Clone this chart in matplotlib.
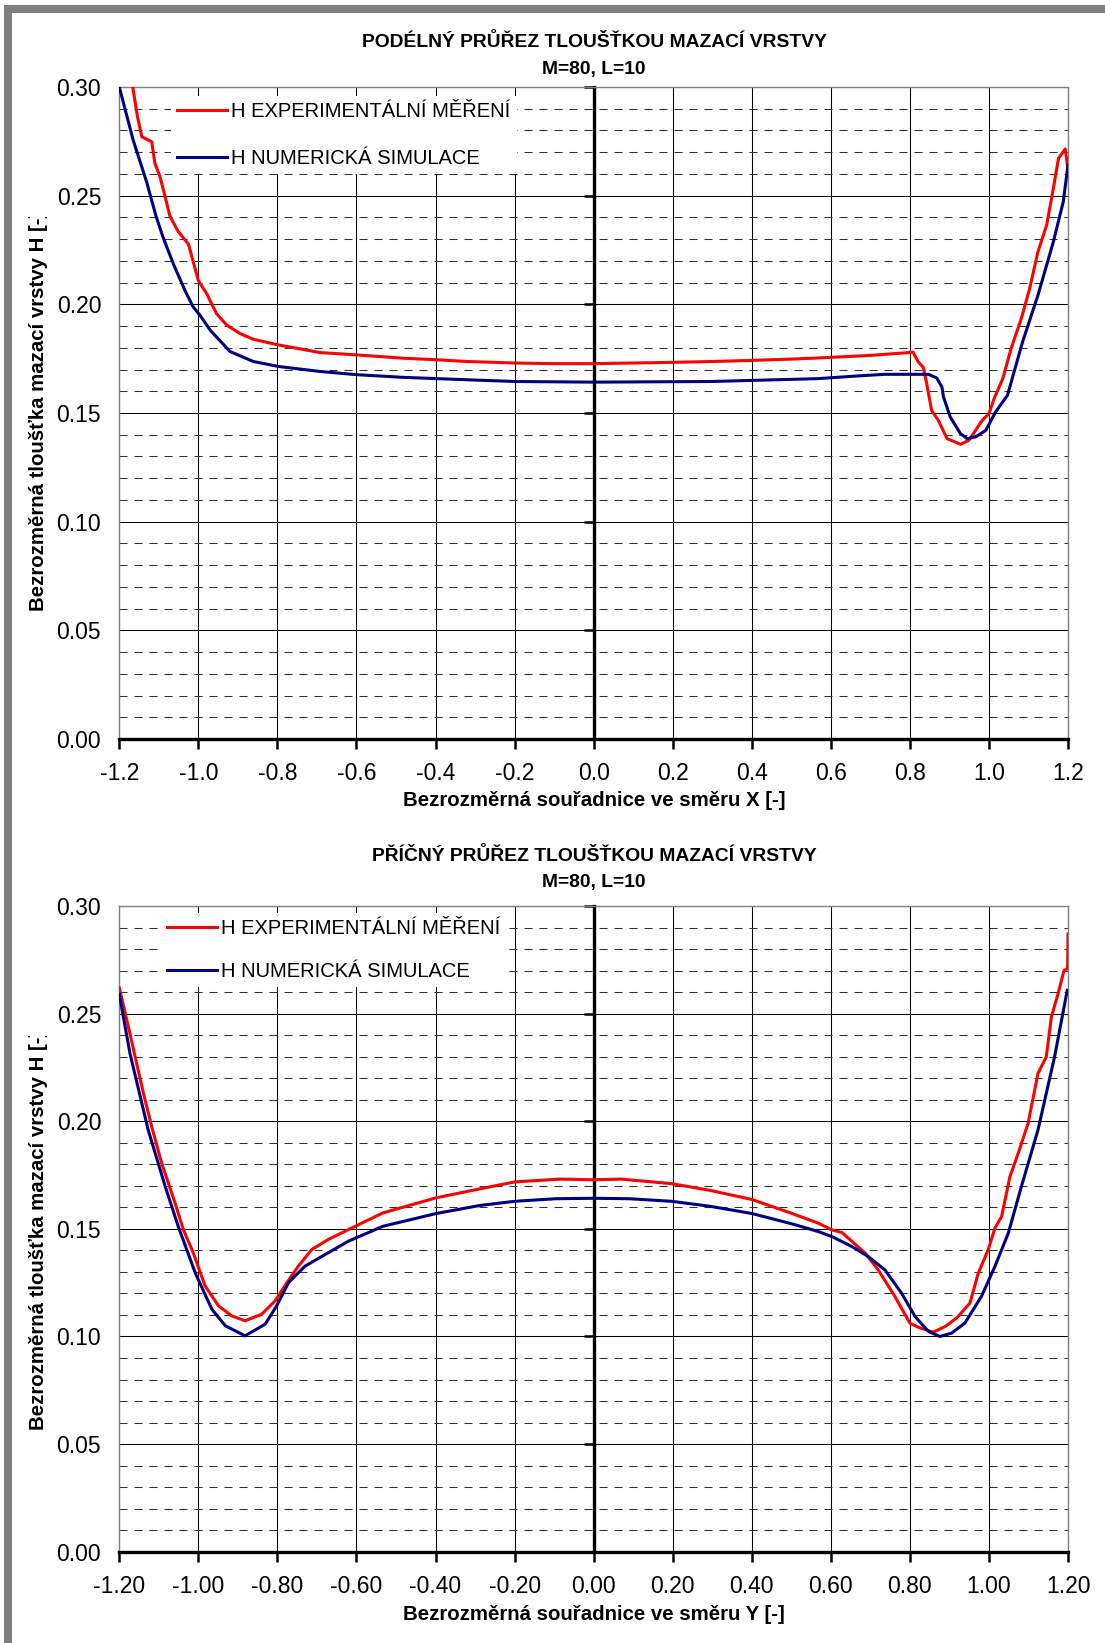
import matplotlib
matplotlib.use('Agg')
import matplotlib.pyplot as plt
from matplotlib.patches import Rectangle
from matplotlib.ticker import MultipleLocator, FormatStrFormatter, NullLocator
from matplotlib.transforms import Bbox
import numpy as np

plt.rcParams['font.family'] = ['Liberation Sans', 'DejaVu Sans']
plt.rcParams['lines.scale_dashes'] = False

# ------ DATA ------

# podelny prurez (smer X)
x_exp_top = [-1.166, -1.154, -1.143, -1.118, -1.110, -1.097, -1.084, -1.072, -1.051, -1.025,
             -1.017, -1.000, -0.979, -0.954, -0.928, -0.895, -0.861, -0.797, -0.692, -0.597,
             -0.481, -0.397, -0.321, -0.200, -0.100, 0.000, 0.100, 0.200, 0.300, 0.400,
             0.500, 0.566, 0.700, 0.797, 0.808, 0.821, 0.834, 0.842, 0.855, 0.872,
             0.894, 0.928, 0.949, 0.983, 1.000, 1.013, 1.035, 1.056, 1.082, 1.103,
             1.124, 1.146, 1.163, 1.176, 1.193, 1.200]
h_exp_top = [0.3000, 0.2863, 0.2771, 0.2748, 0.2649, 0.2587, 0.2495, 0.2406, 0.2335, 0.2277,
             0.2223, 0.2109, 0.2049, 0.1957, 0.1904, 0.1866, 0.1839, 0.1813, 0.1778, 0.1767,
             0.1752, 0.1745, 0.1737, 0.1730, 0.1727, 0.1727, 0.1730, 0.1733, 0.1737, 0.1742,
             0.1748, 0.1753, 0.1765, 0.1778, 0.1780, 0.1735, 0.1710, 0.1640, 0.1512, 0.1466,
             0.1382, 0.1356, 0.1374, 0.1466, 0.1497, 0.1566, 0.1658, 0.1796, 0.1935, 0.2073,
             0.2242, 0.2365, 0.2534, 0.2672, 0.2715, 0.2620]

x_num_top = [-1.200, -1.165, -1.131, -1.107, -1.089, -1.063, -1.034, -1.013, -0.996, -0.970,
             -0.920, -0.861, -0.797, -0.692, -0.597, -0.481, -0.321, -0.200, 0.000, 0.300,
             0.400, 0.566, 0.664, 0.736, 0.847, 0.868, 0.881, 0.885, 0.902, 0.928,
             0.945, 0.966, 0.992, 1.017, 1.047, 1.085, 1.124, 1.163, 1.188, 1.200]
h_num_top = [0.3000, 0.2756, 0.2564, 0.2405, 0.2307, 0.2185, 0.2064, 0.1988, 0.1950, 0.1881,
             0.1783, 0.1737, 0.1714, 0.1691, 0.1676, 0.1664, 0.1653, 0.1645, 0.1642, 0.1645,
             0.1650, 0.1658, 0.1670, 0.1678, 0.1678, 0.1661, 0.1620, 0.1574, 0.1482, 0.1405,
             0.1382, 0.1390, 0.1420, 0.1505, 0.1582, 0.1827, 0.2042, 0.2288, 0.2472, 0.2641]

# pricny prurez (smer Y)
x_exp_bot = [-1.200, -1.173, -1.160, -1.139, -1.118, -1.093, -1.059, -1.038, -1.013, -0.983,
             -0.949, -0.916, -0.882, -0.840, -0.806, -0.776, -0.747, -0.713, -0.671, -0.620,
             -0.533, -0.399, -0.290, -0.200, -0.086, 0.000, 0.070, 0.197, 0.294, 0.401,
             0.498, 0.569, 0.603, 0.628, 0.687, 0.720, 0.762, 0.800, 0.821, 0.859,
             0.889, 0.918, 0.952, 0.973, 0.998, 1.015, 1.032, 1.053, 1.074, 1.099,
             1.124, 1.145, 1.158, 1.175, 1.190, 1.199, 1.200]
h_exp_bot = [0.2620, 0.2407, 0.2300, 0.2130, 0.1975, 0.1806, 0.1620, 0.1497, 0.1389, 0.1235,
             0.1142, 0.1096, 0.1073, 0.1103, 0.1165, 0.1250, 0.1327, 0.1404, 0.1451, 0.1497,
             0.1574, 0.1644, 0.1685, 0.1718, 0.1731, 0.1728, 0.1731, 0.1710, 0.1679, 0.1636,
             0.1574, 0.1526, 0.1495, 0.1483, 0.1387, 0.1309, 0.1186, 0.1062, 0.1043, 0.1020,
             0.1046, 0.1085, 0.1155, 0.1294, 0.1402, 0.1503, 0.1557, 0.1742, 0.1851, 0.1990,
             0.2222, 0.2299, 0.2485, 0.2593, 0.2701, 0.2709, 0.2870]

x_num_bot = [-1.200, -1.173, -1.127, -1.084, -1.051, -1.008, -0.966, -0.932, -0.882, -0.831,
             -0.802, -0.772, -0.730, -0.679, -0.620, -0.533, -0.399, -0.290, -0.200, -0.095,
             0.000, 0.090, 0.197, 0.294, 0.401, 0.508, 0.569, 0.603, 0.653, 0.695,
             0.737, 0.779, 0.813, 0.847, 0.876, 0.906, 0.939, 0.981, 1.015, 1.049,
             1.082, 1.124, 1.166, 1.198]
h_num_bot = [0.2590, 0.2315, 0.1960, 0.1698, 0.1512, 0.1296, 0.1127, 0.1050, 0.1003, 0.1057,
             0.1142, 0.1250, 0.1327, 0.1381, 0.1443, 0.1512, 0.1571, 0.1608, 0.1628, 0.1640,
             0.1642, 0.1640, 0.1628, 0.1605, 0.1571, 0.1520, 0.1487, 0.1464, 0.1418, 0.1371,
             0.1309, 0.1201, 0.1093, 0.1023, 0.1000, 0.1016, 0.1062, 0.1186, 0.1325, 0.1480,
             0.1696, 0.1959, 0.2299, 0.2608]

labels = ['H EXPERIMENTÁLNÍ MĚŘENÍ', 'H NUMERICKÁ SIMULACE']
titles_top = ['PODÉLNÝ PRŮŘEZ TLOUŠŤKOU MAZACÍ VRSTVY', 'M=80, L=10']
titles_bot = ['PŘÍČNÝ PRŮŘEZ TLOUŠŤKOU MAZACÍ VRSTVY', 'M=80, L=10']
xlabel_top = 'Bezrozměrná souřadnice ve směru X [-]'
xlabel_bot = 'Bezrozměrná souřadnice ve směru Y [-]'
ylabel = 'Bezrozměrná tloušťka mazací vrstvy H [-]'

W, H = 1105, 1643


def fx(px):
    return px / W


def fy(py):
    return 1 - py / H


def draw_panel(ax, xe, he, xn, hn, xfmt, leg_anchor, leg_spacing):
    ax.plot(xe, he, color='#ff0000', lw=2.2, zorder=3, label=labels[0])
    ax.plot(xn, hn, color='#000080', lw=2.2, zorder=3, label=labels[1])
    ax.set_xlim(-1.2, 1.2)
    ax.set_ylim(0, 0.3)
    ax.xaxis.set_major_locator(MultipleLocator(0.2))
    ax.xaxis.set_major_formatter(FormatStrFormatter(xfmt))
    ax.yaxis.set_major_locator(MultipleLocator(0.05))
    ax.yaxis.set_minor_locator(MultipleLocator(0.01))
    ax.yaxis.set_major_formatter(FormatStrFormatter('%.2f'))
    ax.grid(which='major', color='#000000', lw=0.75)
    ax.grid(which='minor', axis='y', color='#333333', lw=0.75, linestyle=(0, (5.8, 5.0)))
    for s in ['left', 'top', 'right']:
        ax.spines[s].set_color('#808080')
        ax.spines[s].set_linewidth(1.0)
    ax.spines['bottom'].set_linewidth(2.4)
    ax.spines['bottom'].set_color('black')
    ax.tick_params(axis='x', direction='out', length=7, width=1.8, pad=9.5, labelsize=16.5)
    ax.tick_params(axis='y', which='both', length=0, pad=13, labelsize=16.5)

    # osa v x=0
    sec = ax.secondary_yaxis(0.5)
    sec.set_yticks(np.arange(0, 0.301, 0.05))
    sec.yaxis.set_minor_locator(NullLocator())
    sec.tick_params(axis='y', direction='in', length=7, width=1.8,
                    labelleft=False, labelright=False)
    for s in sec.spines.values():
        s.set_linewidth(2.4)
        s.set_color('black')

    leg = ax.legend(loc='upper left', bbox_to_anchor=leg_anchor, borderaxespad=0,
                    fontsize=14.5, frameon=True, fancybox=False, framealpha=1,
                    facecolor='white', edgecolor='none', borderpad=0.3,
                    handlelength=2.5, handletextpad=0.2, labelspacing=leg_spacing)
    leg.set_zorder(5)


fig = plt.figure(figsize=(W / 100, H / 100), dpi=100)

ax1 = fig.add_axes([fx(119.3), fy(739), (1068 - 119.3) / W, 652 / H])
ax2 = fig.add_axes([fx(119.3), fy(1551.7), (1068 - 119.3) / W, 645.7 / H])

draw_panel(ax1, x_exp_top, h_exp_top, x_num_top, h_num_top, '%.1f', (0.0545, 0.986), 1.36)
draw_panel(ax2, x_exp_bot, h_exp_bot, x_num_bot, h_num_bot, '%.2f', (0.044, 0.9885), 1.17)

# nadpisy
cx = fx(594)
fig.text(cx, fy(42), titles_top[0], ha='center', va='center', fontsize=13.9, fontweight='bold')
fig.text(cx, fy(69.5), titles_top[1], ha='center', va='center', fontsize=13.9, fontweight='bold')
fig.text(cx, fy(856), titles_bot[0], ha='center', va='center', fontsize=13.9, fontweight='bold')
fig.text(cx, fy(883), titles_bot[1], ha='center', va='center', fontsize=13.9, fontweight='bold')

fig.text(cx, fy(800), xlabel_top, ha='center', va='center', fontsize=14.7, fontweight='bold')
fig.text(cx, fy(1614), xlabel_bot, ha='center', va='center', fontsize=14.7, fontweight='bold')

# popisky osy y (v originale je konec "]" orizly)
fig.canvas.draw()
renderer = fig.canvas.get_renderer()
probe = fig.text(0, 0, ']', fontsize=14.7, fontweight='bold')
cut_len = probe.get_window_extent(renderer).width
probe.remove()
for y0 in [611, 1430]:
    t = fig.text(fx(38), fy(y0), ylabel, rotation=90, rotation_mode='anchor',
                 ha='left', va='center', fontsize=14.7, fontweight='bold')
    ext = t.get_window_extent(renderer)
    t.set_clip_box(Bbox([[0, 0], [W, ext.y1 - cut_len + 1]]))

# sedy ramecek vlevo a nahore
fig.add_artist(Rectangle((fx(4), 0), 8 / W, fy(5), transform=fig.transFigure,
                         color='#808080', lw=0))
fig.add_artist(Rectangle((fx(4), fy(13)), 1 - fx(4), 8 / H, transform=fig.transFigure,
                         color='#808080', lw=0))

fig.savefig('out.png', dpi=100)
